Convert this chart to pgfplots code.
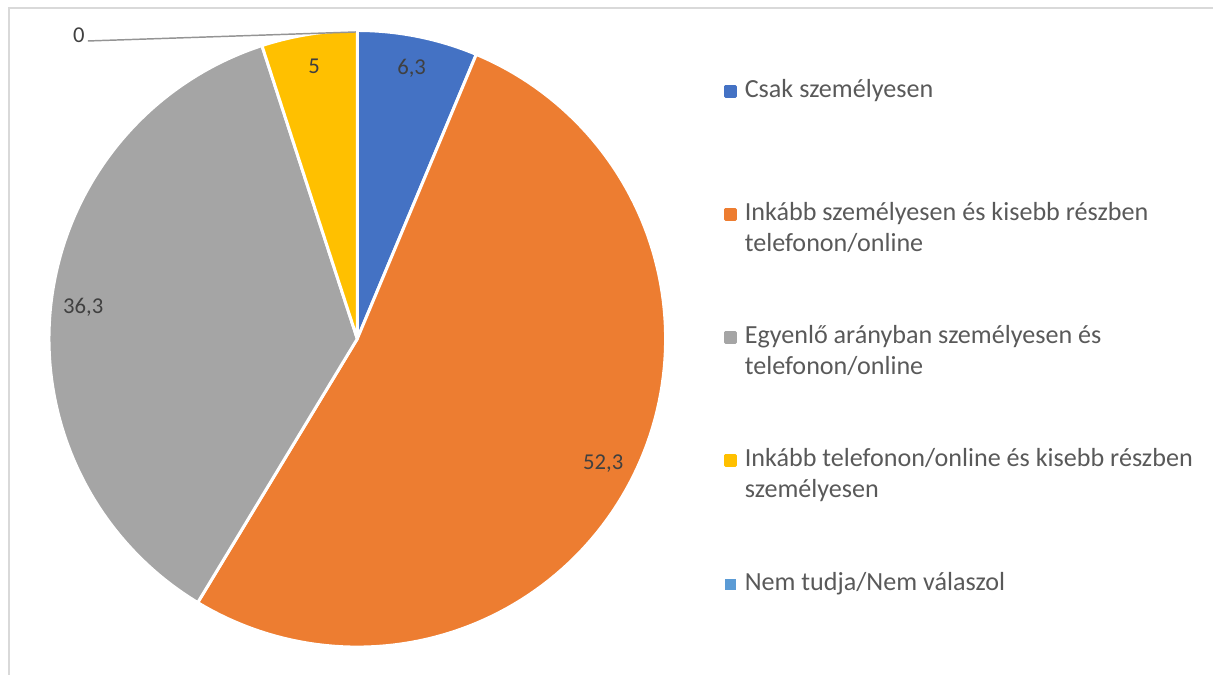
\documentclass[border=0pt]{standalone}
\usepackage{pgfplots}
\pgfplotsset{compat=1.18}
\usepackage{fontspec}
\setmainfont{Carlito}
\definecolor{c1}{HTML}{4472C4}
\definecolor{c2}{HTML}{ED7D31}
\definecolor{c3}{HTML}{A5A5A5}
\definecolor{c4}{HTML}{FFC000}
\definecolor{c5}{HTML}{5B9BD5}
\definecolor{txt}{HTML}{595959}
\definecolor{lbltxt}{HTML}{404040}
\definecolor{frame}{HTML}{D9D9D9}

% data (percent)
\def\vA{6.3}  % Csak személyesen
\def\vB{52.3} % Inkább személyesen ...
\def\vC{36.3} % Egyenlő arányban ...
\def\vD{5}    % Inkább telefonon/online ...
\def\vE{0}    % Nem tudja/Nem válaszol

\def\cx{357.5}
\def\cy{336}
\def\R{308.5}
\pgfmathsetmacro\tot{\vA+\vB+\vC+\vD+\vE}

\pgfkeys{/pgf/number format/.cd, use comma, assume math mode=true}
\pgfplotsset{
  sq/.style={legend image code/.code={\fill[#1] (0pt,-3.75pt) rectangle (7.5pt,3.75pt); \path (13.5pt,0pt);}},
}
\tikzset{lbl/.style={font=\fontsize{17}{20}\selectfont, text=lbltxt}}

\newcommand\pieslice[4]{% color, cumulative start, value, legend text
  \pgfmathsetmacro\aS{90-(#2)/\tot*360}
  \pgfmathsetmacro\aE{90-((#2)+(#3))/\tot*360}
  \pgfmathsetmacro\aM{(\aS+\aE)/2}
  \pgfmathsetmacro\lx{\cx+0.895*\R*cos(\aM)}
  \pgfmathsetmacro\ly{\cy+0.895*\R*sin(\aM)}
  \addplot[fill=#1, draw=white, line width=2.25pt, line join=round, domain=\aE:\aS, samples=120, sq=#1]
     ({\cx+\R*cos(x)},{\cy+\R*sin(x)}) -- (axis cs:\cx,\cy) -- cycle;
  \addlegendentry{#4}
  \edef\tmp{\noexpand\node[lbl] at (axis cs:\lx,\ly) {\noexpand\pgfmathprintnumber{#3}};}\tmp
}
\newcommand\blankentry{\addlegendimage{empty legend}\addlegendentry{\mbox{}}}
\newcommand\contentry[1]{\addlegendimage{empty legend}\addlegendentry{#1}}

\begin{document}
\begin{tikzpicture}
\begin{axis}[
  x=0.75pt, y=0.75pt,
  xmin=0, xmax=1214, ymin=0, ymax=675,
  axis lines=none, clip=false,
  legend cell align=left,
  legend style={at={(axis cs:724,599)}, anchor=north west, draw=none, fill=none,
    inner sep=0pt, row sep=0pt, column sep=0pt,
    font=\fontsize{19.6}{23.1}\selectfont, text=txt,
    nodes={inner sep=0pt, text height=16pt, text depth=7.1pt}},
]
\path (axis cs:0,0) rectangle (axis cs:1214,675);
\draw[frame, line width=1.1pt] (axis cs:9,0) -- (axis cs:9,667) -- (axis cs:1214,667);

\pgfmathsetmacro\sB{\vA}
\pgfmathsetmacro\sC{\vA+\vB}
\pgfmathsetmacro\sD{\vA+\vB+\vC}

\pieslice{c1}{0}{\vA}{Csak személyesen}
\blankentry\blankentry\blankentry
\pieslice{c2}{\sB}{\vB}{Inkább személyesen és kisebb részben}
\contentry{telefonon/online}\blankentry\blankentry
\pieslice{c3}{\sC}{\vC}{Egyenlő arányban személyesen és}
\contentry{telefonon/online}\blankentry\blankentry
\pieslice{c4}{\sD}{\vD}{Inkább telefonon/online és kisebb részben}
\contentry{személyesen}\blankentry\blankentry
\addlegendimage{sq=c5}
\addlegendentry{Nem tudja/Nem válaszol}

% zero slice: label with leader line
\draw[c3!90!black, line width=1.1pt] (axis cs:88,634) -- (axis cs:356,643);
\node[lbl] at (axis cs:79,640) {\pgfmathprintnumber{\vE}};
\end{axis}
\end{tikzpicture}
\end{document}
